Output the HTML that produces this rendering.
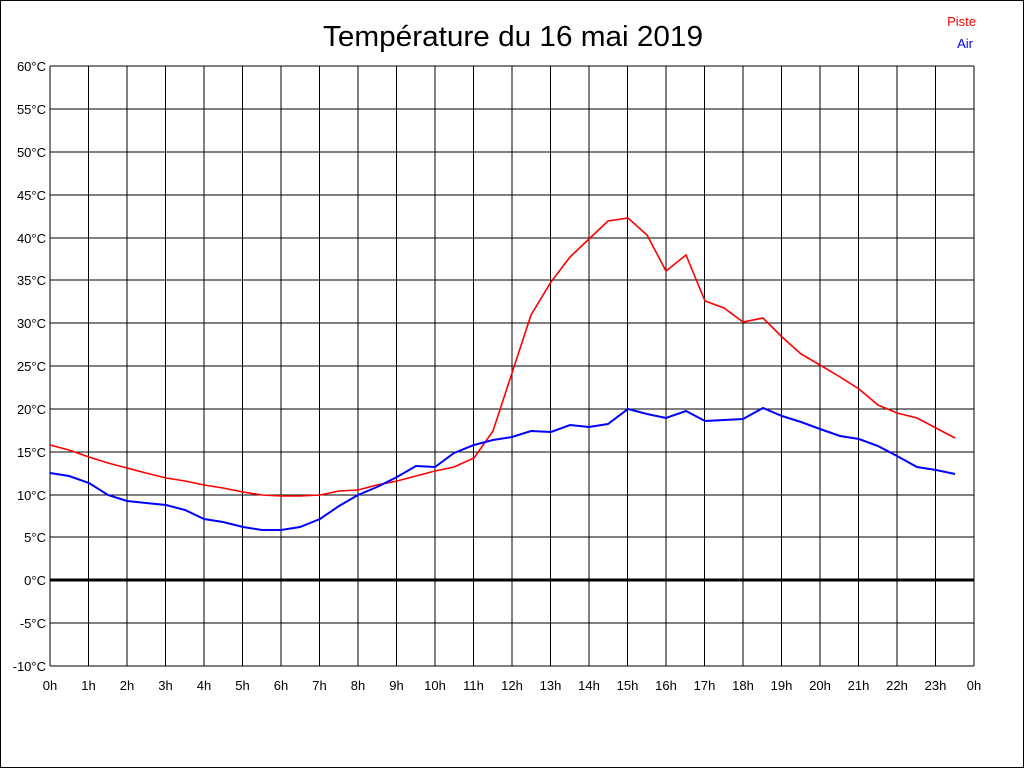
<!DOCTYPE html>
<html><head><meta charset="utf-8"><style>html,body{margin:0;padding:0;background:#fff}svg{display:block}</style></head>
<body>
<svg width="1024" height="768" xmlns="http://www.w3.org/2000/svg" font-family="Liberation Sans, sans-serif">
<rect x="0.5" y="0.5" width="1023" height="767" fill="#fff" stroke="#000"/>
<text x="513" y="46" font-size="29" text-anchor="middle" textLength="380" lengthAdjust="spacingAndGlyphs">Température du 16 mai 2019</text>
<text x="976" y="26" font-size="13" fill="#f00" text-anchor="end">Piste</text>
<text x="973" y="48" font-size="13" fill="#00f" text-anchor="end">Air</text>
<g stroke="#000" stroke-width="1" shape-rendering="crispEdges">
<path d="M50 66V666M88.5 66V666M127 66V666M165.5 66V666M204 66V666M242.5 66V666M281 66V666M319.5 66V666M358 66V666M396.5 66V666M435 66V666M473.5 66V666M512 66V666M550.5 66V666M589 66V666M627.5 66V666M666 66V666M704.5 66V666M743 66V666M781.5 66V666M820 66V666M858.5 66V666M897 66V666M935.5 66V666M974 66V666"/>
<path d="M50 66H974M50 109H974M50 152H974M50 195H974M50 238H974M50 280H974M50 323H974M50 366H974M50 409H974M50 452H974M50 495H974M50 537H974M50 623H974M50 666H974"/>
</g>
<path d="M50 580H974" stroke="#000" stroke-width="3"/>
<g font-size="13" text-anchor="end" fill="#000">
<text x="46" y="71">60°C</text><text x="46" y="114">55°C</text><text x="46" y="157">50°C</text><text x="46" y="200">45°C</text><text x="46" y="243">40°C</text><text x="46" y="285">35°C</text><text x="46" y="328">30°C</text><text x="46" y="371">25°C</text><text x="46" y="414">20°C</text><text x="46" y="457">15°C</text><text x="46" y="500">10°C</text><text x="46" y="542">5°C</text><text x="46" y="585">0°C</text><text x="46" y="628">-5°C</text><text x="46" y="671">-10°C</text>
</g>
<g font-size="13" text-anchor="middle" fill="#000">
<text x="50" y="690">0h</text><text x="88.5" y="690">1h</text><text x="127" y="690">2h</text><text x="165.5" y="690">3h</text><text x="204" y="690">4h</text><text x="242.5" y="690">5h</text><text x="281" y="690">6h</text><text x="319.5" y="690">7h</text><text x="358" y="690">8h</text><text x="396.5" y="690">9h</text><text x="435" y="690">10h</text><text x="473.5" y="690">11h</text><text x="512" y="690">12h</text><text x="550.5" y="690">13h</text><text x="589" y="690">14h</text><text x="627.5" y="690">15h</text><text x="666" y="690">16h</text><text x="704.5" y="690">17h</text><text x="743" y="690">18h</text><text x="781.5" y="690">19h</text><text x="820" y="690">20h</text><text x="858.5" y="690">21h</text><text x="897" y="690">22h</text><text x="935.5" y="690">23h</text><text x="974" y="690">0h</text>
</g>
<polyline fill="none" stroke="#f00" stroke-width="1.6" points="50,445 69,450 89,457 108,463 127,468 146,473 166,478 185,481 204,485 223,488 243,492 262,495 281,496 300,496 320,495 339,491 358,490 377,485 397,481 416,476 435,471 454,467 474,458 493,431 512,373 531,315 551,282 570,257 589,239 608,221 628,218 647,235 666,271 686,255 705,301 724,308 743,322 763,318 782,337 801,354 820,365 840,377 859,389 878,405 897,413 917,418 936,428 955,438"/>
<polyline fill="none" stroke="#00f" stroke-width="2" points="50,473 69,476 89,483 108,495 127,501 146,503 166,505 185,510 204,519 223,522 243,527 262,530 281,530 300,527 320,519 339,506 358,495 377,487 397,477 416,466 435,467 454,453 474,445 493,440 512,437 531,431 551,432 570,425 589,427 608,424 628,409 647,414 666,418 686,411 705,421 724,420 743,419 763,408 782,416 801,422 820,429 840,436 859,439 878,446 897,456 917,467 936,470 955,474"/>
</svg>
</body></html>
